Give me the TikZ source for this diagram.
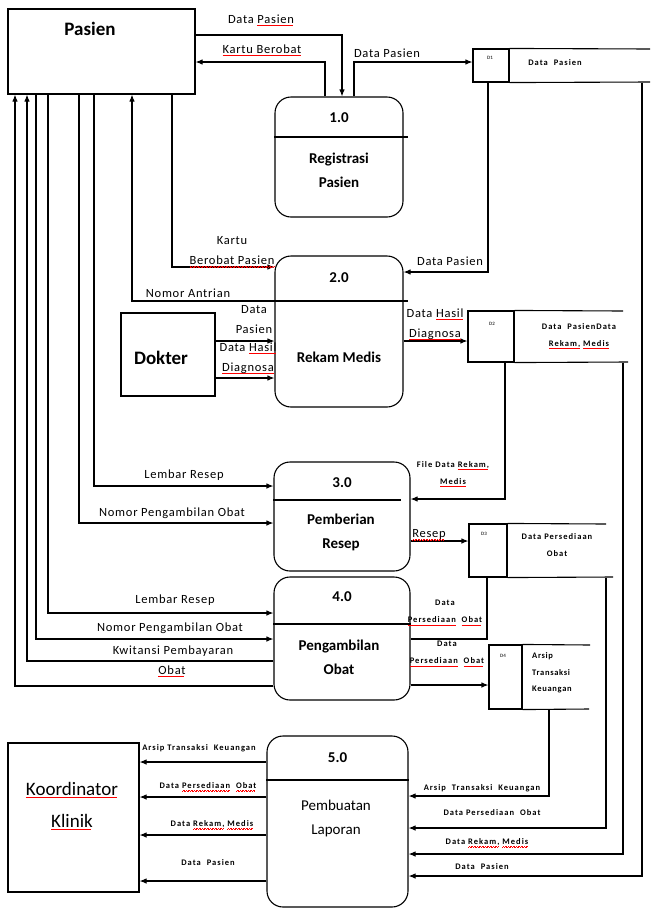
\documentclass[tikz,border=0pt]{standalone}
\usepackage{fontspec}
\setmainfont{Carlito}
\usetikzlibrary{arrows.meta}

% red spell-check squiggle under a word
\newsavebox\splbox
\newcommand\spl[1]{\sbox\splbox{#1}\rlap{\color{red}\leaders\hbox{\rule[-2.6pt]{0.8pt}{0.45pt}\rule[-2.0pt]{0.8pt}{0.45pt}}\hskip\wd\splbox}\usebox\splbox}

\begin{document}
\begin{tikzpicture}[x=1pt,y=-1pt,
  line/.style={draw,line width=1.1pt},
  flow/.style={draw,line width=1.1pt,-{Latex[length=7pt,width=5.5pt]}},
  entity/.style={draw,line width=1.1pt,rectangle,inner sep=0pt},
  proc/.style={draw,line width=1.1pt,rectangle,rounded corners=16pt,inner sep=0pt},
  idbox/.style={draw,line width=1.1pt,rectangle,inner sep=0pt},
  etitle/.style={font=\fontsize{19}{32}\selectfont\bfseries,inner sep=0pt,align=center},
  ename/.style={font=\fontsize{19}{32}\selectfont,inner sep=0pt,align=center},
  ptext/.style={font=\fontsize{15}{24}\selectfont\bfseries,inner sep=0pt,align=center},
  pname/.style={font=\fontsize{15}{24}\selectfont,inner sep=0pt,align=center},
  lbl/.style={font=\fontsize{12.5}{20}\selectfont\addfontfeature{LetterSpace=6},inner sep=0pt,align=center},
  slbl/.style={font=\fontsize{8.5}{17}\selectfont\bfseries\addfontfeature{LetterSpace=12},inner sep=0pt,align=center},
  idtxt/.style={font=\fontsize{5}{6}\selectfont\bfseries,text=black!75,inner sep=0pt}
]
\useasboundingbox (0,0) rectangle (651,911);

% ---------- external entities ----------
\node[entity,minimum width=187pt,minimum height=85pt] (pasien) at (101.5,51.5) {};
\node[etitle] (tpasien) at (90,29) {Pasien};
\node[entity,minimum width=94pt,minimum height=83pt] (dokter) at (168,354.5) {};
\node[etitle] (tdokter) at (161,358) {Dokter};
\node[entity,minimum width=131pt,minimum height=149pt] (koord) at (73.5,817.5) {};
\node[ename] (tkoord) at (72,806) {\spl{Koordinator}\\\spl{Klinik}};

% ---------- processes ----------
\node[proc,minimum width=128pt,minimum height=120pt] (p1) at (339,157) {};
\node[proc,minimum width=128pt,minimum height=151pt] (p2) at (339,331.5) {};
\node[proc,minimum width=136pt,minimum height=109pt] (p3) at (342,516.5) {};
\node[proc,minimum width=136pt,minimum height=123pt] (p4) at (342,638.5) {};
\node[proc,minimum width=141pt,minimum height=171pt] (p5) at (337.5,821.5) {};

\draw[line] (p1.west |- 0,137) -- ([xshift=4pt]p1.east |- 0,137);
\draw[line] (p2.west |- 0,301) -- ([xshift=4pt]p2.east |- 0,301);
\draw[line] (p3.west |- 0,500) -- ([xshift=-10pt]p3.east |- 0,500);
\draw[line] (p4.west |- 0,624) -- (p4.east |- 0,624);
\draw[line] (p5.west |- 0,780) -- (p5.east |- 0,780);

\node[ptext] (n1) at (339,118) {1.0};
\node[ptext] (t1) at (339,170) {Registrasi\\Pasien};
\node[ptext] (n2) at (339,278) {2.0};
\node[ptext] (t2) at (339,357) {Rekam Medis};
\node[ptext] (n3) at (342,483) {3.0};
\node[ptext] (t3) at (341,532) {Pemberian\\Resep};
\node[ptext] (n4) at (342,597) {4.0};
\node[ptext] (t4) at (339,657) {Pengambilan\\Obat};
\node[ptext] (n5) at (337.5,758) {5.0};
\node[pname] (t5) at (336,818) {Pembuatan\\Laporan};

% ---------- data stores ----------
\node[idbox,minimum width=36pt,minimum height=33pt] (d1) at (491,65.5) {};
\draw[line] (d1.north east) -- (650,49);
\draw[line] (d1.south east) -- (650,82);
\node[idtxt] at (490,58) {D1};
\node[slbl] (sd1) at (555,63) {Data\ \ Pasien};

\node[idbox,minimum width=46pt,minimum height=51pt] (d2) at (491,336.5) {};
\draw[line] (d2.north east) -- (623,311);
\draw[line] (d2.south east) -- (628,362);
\node[idtxt] at (492,324) {D2};
\node[slbl] (sd2) at (579,336) {Data\ \ PasienData\\\spl{Rekam,} \spl{Medis}};

\node[idbox,minimum width=38pt,minimum height=53pt] (d3) at (488,550.5) {};
\draw[line] (d3.north east) -- (606,524);
\draw[line] (d3.south east) -- (613,577);
\node[idtxt] at (484,534) {D3};
\node[slbl] (sd3) at (557,545) {Data Persediaan\\Obat};

\node[idbox,minimum width=33pt,minimum height=64pt] (d4) at (505.5,677) {};
\draw[line] (d4.north east) -- (590,645);
\draw[line] (d4.south east) -- (589,709);
\node[idtxt] at (503,656) {D4};
\node[slbl,align=left,anchor=west,font=\fontsize{8.5}{16.5}\selectfont\bfseries\addfontfeature{LetterSpace=8}] (sd4) at (532,673) {Arsip\\Transaksi\\Keuangan};

% ---------- flows: Pasien / 1.0 ----------
\draw[flow] (pasien.east |- 0,35) -| (p1.north -| 342,0);
\node[lbl] at (261,20) {Data \spl{Pasien}};
\draw[flow] (p1.north -| 325,0) |- (pasien.east |- 0,62);
\node[lbl] at (262,50) {\spl{Kartu Berobat}};
\draw[flow] (p1.north -| 354,0) |- (d1.west |- 0,62);
\node[lbl] at (387,53) {Data Pasien};

% ---------- flows: 2.0 ----------
\draw[flow] (d1.south -| 488,0) |- (p2.east |- 0,272);
\node[lbl] at (450,261) {Data Pasien};
\draw[flow] (pasien.south -| 172,0) |- (p2.west |- 0,267);
\node[lbl] at (232,252) {Kartu\\\spl{Berobat Pasien}};
\draw[flow] (p2.west |- 0,301) -| (pasien.south -| 132,0);
\node[lbl] at (188,293) {Nomor Antrian};
\draw[flow] (dokter.east |- 0,341) -- (p2.west |- 0,341);
\node[lbl] at (254,320) {Data\\Pasien};
\draw[flow] (dokter.east |- 0,378) -- (p2.west |- 0,378);
\node[lbl] at (248,358) {Data \spl{Hasil}\\\spl{Diagnosa}};
\draw[flow] (p2.east |- 0,341) -- (d2.west |- 0,341);
\node[lbl] at (435,324) {Data \spl{Hasil}\\\spl{Diagnosa}};

% ---------- flows: 3.0 ----------
\draw[flow] (d2.south -| 505,0) |- (p3.east |- 0,499);
\node[slbl] at (453,474) {File Data \spl{Rekam,}\\\spl{Medis}};
\draw[flow] (pasien.south -| 94,0) |- (p3.west |- 0,486);
\node[lbl] at (184,475) {Lembar Resep};
\draw[flow] (pasien.south -| 79,0) |- (p3.west |- 0,523);
\node[lbl] at (172,513) {Nomor Pengambilan Obat};
\draw[flow] (p3.east |- 0,541) -- (d3.west |- 0,541);
\node[lbl] at (429,535) {\spl{Resep}};

% ---------- flows: 4.0 ----------
\draw[line] (d3.south -| 487,0) |- (p4.east |- 0,639);
\node[slbl] at (445,613) {Data\\\spl{Persediaan}\ \ \spl{Obat}};
\draw[flow] (pasien.south -| 48,0) |- (p4.west |- 0,613);
\node[lbl] at (175,600) {Lembar Resep};
\draw[flow] (pasien.south -| 36,0) |- (p4.west |- 0,639);
\node[lbl] at (170,628) {Nomor Pengambilan Obat};
\draw[flow] (p4.west |- 0,661) -| (pasien.south -| 27,0);
\node[lbl] at (173,651) {Kwitansi Pembayaran};
\draw[flow] (p4.west |- 0,686) -| (pasien.south -| 15,0);
\node[lbl] at (172,671) {\spl{Obat}};
\draw[flow] (p4.east |- 0,685) -- (d4.west |- 0,685);
\node[slbl] at (447,654) {Data\\\spl{Persediaan}\ \ \spl{Obat}};

% ---------- flows: 5.0 ----------
\draw[flow] (d4.south -| 549,0) |- (p5.east |- 0,796);
\node[slbl] at (482,788) {Arsip\ \ Transaksi\ \ Keuangan};
\draw[flow] (d3.south -| 606,0) |- (p5.east |- 0,828);
\node[slbl] at (492,813) {Data Persediaan\ \ Obat};
\draw[flow] (d2.south -| 623,0) |- (p5.east |- 0,854);
\node[slbl] at (487,843) {Data \spl{Rekam,} \spl{Medis}};
\draw[flow] (d1.south -| 642,0) |- (p5.east |- 0,876);
\node[slbl] at (482,867) {Data\ \ Pasien};

\draw[flow] (p5.west |- 0,762) -- (koord.east |- 0,762);
\node[slbl] at (199,748) {Arsip Transaksi\ \ Keuangan};
\draw[flow] (p5.west |- 0,797) -- (koord.east |- 0,797);
\node[slbl] at (208,787) {Data \spl{Persediaan}\ \ \spl{Obat}};
\draw[flow] (p5.west |- 0,835) -- (koord.east |- 0,835);
\node[slbl] at (212,825) {Data \spl{Rekam,} \spl{Medis}};
\draw[flow] (p5.west |- 0,881) -- (koord.east |- 0,881);
\node[slbl] at (208,863) {Data\ \ Pasien};
\end{tikzpicture}
\end{document}
